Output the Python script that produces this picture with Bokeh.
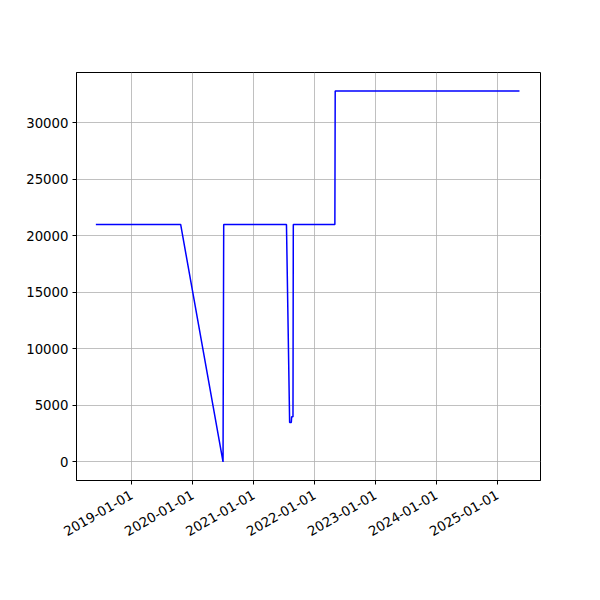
import math
import pandas as pd
from bokeh.plotting import figure
from bokeh.models import Range1d, FixedTicker, DatetimeTickFormatter, BasicTickFormatter
from bokeh.embed import file_html
from bokeh.resources import INLINE

dates = ["2018-06-01", "2019-10-22", "2020-07-02", "2020-07-06", "2021-07-17",
         "2021-08-05", "2021-08-15", "2021-08-17", "2021-08-25", "2021-08-27",
         "2022-05-03", "2022-05-05", "2025-05-13"]
values = [21000, 21000, 0, 21000, 21000,
          3500, 3500, 4000, 4000, 21000,
          21000, 32800, 32800]
x_ticks = ["2019-01-01", "2020-01-01", "2021-01-01", "2022-01-01",
           "2023-01-01", "2024-01-01", "2025-01-01"]
y_ticks = [0, 5000, 10000, 15000, 20000, 25000, 30000]

x = pd.to_datetime(dates)
tick_ms = [pd.Timestamp(t).value // 10**6 for t in x_ticks]

p = figure(width=592, height=592, output_backend="svg", toolbar_location=None,
           x_axis_type="datetime",
           x_range=Range1d(pd.Timestamp("2018-02-05"), pd.Timestamp("2025-09-16")),
           y_range=Range1d(-1640, 34440),
           min_border_left=76, min_border_right=52, min_border_top=72, min_border_bottom=112)
p.background_fill_color = "white"
p.border_fill_color = "white"
p.outline_line_color = "black"
p.outline_line_width = 1
p.outline_line_alpha = 1

p.line(x, values, line_color="#0000ff", line_width=1.5)

p.xaxis.ticker = FixedTicker(ticks=tick_ms)
fmt = "%Y-%m-%d"
p.xaxis.formatter = DatetimeTickFormatter(years=fmt, months=fmt, days=fmt, hours=fmt,
                                          hourmin=fmt, minutes=fmt, minsec=fmt,
                                          seconds=fmt, milliseconds=fmt, microseconds=fmt)
p.xaxis.major_label_orientation = math.pi / 6
p.yaxis.ticker = FixedTicker(ticks=y_ticks)
p.yaxis.formatter = BasicTickFormatter(use_scientific=False)

for ax in (p.xaxis, p.yaxis):
    ax.major_tick_in = 0
    ax.major_tick_out = 4
    ax.minor_tick_line_color = None
    ax.axis_line_color = "black"
    ax.major_tick_line_color = "black"
    ax.major_label_text_font = "DejaVu Sans"
    ax.major_label_text_font_size = "13.3px"
    ax.major_label_text_color = "black"
p.yaxis.major_label_standoff = 4
p.xaxis.major_label_standoff = 9

p.grid.grid_line_color = "#b0b0b0"
p.grid.grid_line_width = 0.8
p.xgrid.ticker = FixedTicker(ticks=tick_ms)
p.ygrid.ticker = FixedTicker(ticks=y_ticks)

open("out.html", "w").write(file_html(p, INLINE))
